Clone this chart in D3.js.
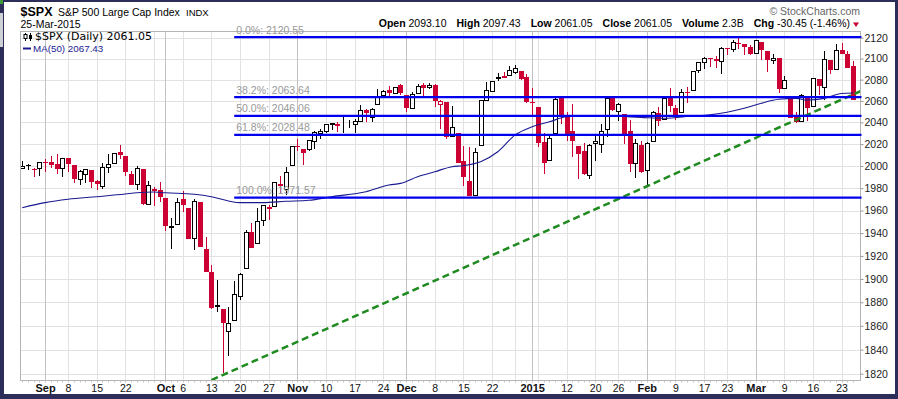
<!DOCTYPE html>
<html>
<head>
<meta charset="utf-8">
<title>$SPX candles</title>
<script src="https://cdn.jsdelivr.net/npm/d3@7/dist/d3.min.js"></script>
<style>
  body { margin: 0; background: #fff; }
  svg { display: block; font-family: "Liberation Sans", Arial, sans-serif; }
</style>
</head>
<body>
<svg width="898" height="399" id="mainsvg"></svg>
<script>
// trading days shown, grouped by month
const tradingDays = [
  ["2014-08", [26, 27, 28, 29]],
  ["2014-09", [2, 3, 4, 5, 8, 9, 10, 11, 12, 15, 16, 17, 18, 19, 22, 23, 24, 25, 26, 29, 30]],
  ["2014-10", [1, 2, 3, 6, 7, 8, 9, 10, 13, 14, 15, 16, 17, 20, 21, 22, 23, 24, 27, 28, 29, 30, 31]],
  ["2014-11", [3, 4, 5, 6, 7, 10, 11, 12, 13, 14, 17, 18, 19, 20, 21, 24, 25, 26, 28]],
  ["2014-12", [1, 2, 3, 4, 5, 8, 9, 10, 11, 12, 15, 16, 17, 18, 19, 22, 23, 24, 26, 29, 30, 31]],
  ["2015-01", [2, 5, 6, 7, 8, 9, 12, 13, 14, 15, 16, 20, 21, 22, 23, 26, 27, 28, 29, 30]],
  ["2015-02", [2, 3, 4, 5, 6, 9, 10, 11, 12, 13, 17, 18, 19, 20, 23, 24, 25, 26, 27]],
  ["2015-03", [2, 3, 4, 5, 6, 9, 10, 11, 12, 13, 16, 17, 18, 19, 20, 23, 24, 25]]
];
const dates = tradingDays.flatMap(([m, ds]) => ds.map(d => `${m}-${String(d).padStart(2, "0")}`));

const opens = [1998.6, 2000.5, 1997.4, 1998.5, 2004.1, 2003.6, 2001.7, 1998.0, 2007.2, 2000.7,
  1988.4, 1992.9, 1996.7, 1986.0, 1981.9, 1999.3, 2003.1, 2012.7, 2009.1, 1992.8,
  1983.3, 1997.3, 1966.2, 1978.9, 1978.2, 1971.4, 1945.8, 1948.0, 1970.0, 1962.4,
  1935.6, 1967.7, 1925.6, 1905.7, 1877.1, 1874.2, 1856.0, 1864.9, 1885.6, 1909.4,
  1941.3, 1931.0, 1951.6, 1963.0, 1964.1, 1983.3, 1979.5, 2001.2, 2018.2, 2015.8,
  2015.3, 2023.3, 2030.4, 2032.0, 2038.2, 2037.8, 2039.2, 2039.7, 2038.3, 2041.5,
  2051.2, 2045.0, 2057.5, 2065.1, 2070.0, 2067.4, 2074.8, 2065.8, 2053.8, 2067.5,
  2074.8, 2072.8, 2074.8, 2056.8, 2058.9, 2027.9, 2030.4, 2005.0, 1986.7, 1973.8,
  2019.0, 2061.0, 2069.3, 2081.5, 2083.3, 2084.3, 2087.6, 2088.5, 2082.1, 2058.9,
  2054.4, 2022.2, 2005.6, 2030.6, 2063.5, 2046.1, 2031.6, 2018.4, 2013.8, 1992.3,
  2020.8, 2020.2, 2034.3, 2063.0, 2050.4, 2047.9, 2032.3, 2002.4, 2019.4, 1996.7,
  2022.7, 2048.9, 2043.0, 2062.3, 2053.5, 2049.4, 2068.6, 2070.0, 2088.8, 2096.5,
  2100.6, 2099.3, 2097.7, 2109.8, 2109.1, 2115.3, 2113.9, 2110.9, 2105.2, 2115.8,
  2107.7, 2098.5, 2100.9, 2072.3, 2064.0, 2046.0, 2041.1, 2064.6, 2055.4, 2080.6,
  2072.8, 2098.7, 2090.3, 2108.0, 2103.9, 2093.1];
const highs = [2005.0, 2002.1, 1998.6, 2003.4, 2006.1, 2009.3, 2011.2, 2007.7, 2007.2, 2001.0,
  1996.7, 1997.7, 1996.7, 1987.2, 2002.3, 2010.7, 2012.3, 2019.3, 2009.1, 1995.4,
  1999.8, 1997.3, 1986.4, 1981.3, 1985.2, 1971.4, 1952.9, 1971.2, 1977.1, 1962.4,
  1970.4, 1967.7, 1936.9, 1912.1, 1898.7, 1874.2, 1876.0, 1898.2, 1905.0, 1942.5,
  1949.3, 1961.9, 1965.3, 1964.6, 1985.2, 1991.4, 1999.4, 2018.7, 2024.5, 2015.9,
  2023.8, 2031.6, 2034.3, 2038.7, 2039.7, 2040.3, 2046.2, 2042.2, 2043.1, 2056.1,
  2052.1, 2053.8, 2071.5, 2070.2, 2074.2, 2073.4, 2075.8, 2065.8, 2068.2, 2076.3,
  2077.3, 2077.3, 2075.8, 2060.6, 2058.9, 2055.5, 2030.4, 2018.7, 2016.9, 2016.8,
  2061.2, 2077.9, 2078.8, 2086.7, 2087.6, 2092.7, 2093.6, 2088.5, 2085.6, 2072.4,
  2054.4, 2030.3, 2029.6, 2064.1, 2064.4, 2049.3, 2056.9, 2018.4, 2021.4, 2020.5,
  2028.9, 2038.3, 2064.6, 2063.0, 2057.6, 2047.9, 2042.5, 2024.6, 2023.3, 2021.7,
  2050.3, 2054.7, 2063.6, 2072.4, 2056.2, 2070.9, 2073.5, 2088.5, 2097.0, 2101.3,
  2100.6, 2102.1, 2110.6, 2110.1, 2117.9, 2119.6, 2113.9, 2112.7, 2117.5, 2115.8,
  2107.7, 2104.3, 2100.9, 2083.5, 2064.5, 2050.1, 2066.4, 2064.6, 2081.4, 2080.6,
  2106.9, 2098.7, 2113.9, 2114.9, 2107.6, 2097.4];
const lows = [1998.6, 1996.2, 1990.5, 1991.0, 1994.9, 1998.1, 1992.9, 1990.1, 1995.0, 1984.6,
  1982.9, 1985.0, 1980.3, 1978.5, 1979.1, 1993.3, 2003.1, 2006.6, 1991.0, 1982.4,
  1978.6, 1965.0, 1966.2, 1964.1, 1968.0, 1941.7, 1926.0, 1948.0, 1958.4, 1935.1,
  1925.3, 1927.6, 1906.1, 1874.1, 1871.8, 1820.7, 1835.0, 1864.9, 1882.3, 1909.4,
  1927.1, 1931.0, 1946.3, 1951.4, 1964.1, 1974.8, 1974.2, 2001.2, 2013.7, 2001.0,
  2014.0, 2015.9, 2025.0, 2030.2, 2033.0, 2031.3, 2030.4, 2035.2, 2030.2, 2041.5,
  2040.4, 2040.5, 2056.8, 2065.1, 2064.8, 2066.4, 2065.1, 2049.6, 2053.8, 2066.7,
  2062.3, 2071.4, 2054.3, 2034.2, 2024.3, 2027.9, 2002.3, 1982.3, 1972.6, 1973.8,
  2019.0, 2061.0, 2069.3, 2078.8, 2081.9, 2084.3, 2085.8, 2079.8, 2057.9, 2046.0,
  2017.3, 1992.4, 2005.6, 2030.6, 2038.3, 2022.6, 2008.3, 1988.4, 1991.5, 1988.1,
  2004.5, 2012.0, 2026.4, 2050.5, 2041.0, 2019.9, 1995.0, 1989.2, 1993.4, 1980.9,
  2022.7, 2036.7, 2043.0, 2050.0, 2041.9, 2048.6, 2058.0, 2070.0, 2086.7, 2089.8,
  2092.2, 2090.8, 2085.4, 2103.0, 2105.9, 2109.1, 2103.8, 2103.8, 2104.9, 2098.3,
  2087.6, 2095.2, 2067.3, 2072.2, 2044.2, 2039.7, 2041.1, 2041.2, 2055.4, 2065.1,
  2061.1, 2085.6, 2090.3, 2104.4, 2091.5, 2061.05];
const closes = [2000.1, 2000.2, 1996.7, 2003.4, 2002.3, 2000.7, 1997.7, 2007.7, 2001.5, 1988.4,
  1995.7, 1997.5, 1985.5, 1984.1, 1999.0, 2001.6, 2011.4, 2010.4, 1994.3, 1982.8,
  1998.3, 1966.0, 1982.9, 1977.8, 1972.3, 1946.2, 1946.2, 1967.9, 1964.8, 1935.1,
  1968.9, 1928.2, 1906.1, 1874.7, 1877.7, 1862.5, 1862.8, 1886.8, 1904.0, 1941.3,
  1927.1, 1950.8, 1964.6, 1961.6, 1985.1, 1982.3, 1994.7, 2018.1, 2017.8, 2012.1,
  2023.6, 2031.2, 2031.9, 2038.3, 2039.7, 2038.3, 2039.3, 2039.8, 2041.3, 2051.8,
  2048.7, 2052.8, 2063.5, 2069.4, 2067.0, 2072.8, 2067.6, 2053.4, 2066.6, 2074.3,
  2071.9, 2075.4, 2060.3, 2059.8, 2026.1, 2035.3, 2002.3, 1989.6, 1972.7, 2012.9,
  2061.2, 2070.7, 2078.5, 2082.2, 2081.9, 2088.8, 2090.6, 2080.4, 2058.9, 2058.2,
  2020.6, 2002.6, 2025.9, 2062.1, 2044.8, 2028.3, 2023.0, 2011.3, 1992.7, 2019.4,
  2022.6, 2032.1, 2063.2, 2051.8, 2057.1, 2029.6, 2002.2, 2021.3, 1995.0, 2020.9,
  2050.0, 2041.5, 2062.5, 2055.5, 2046.7, 2068.6, 2068.5, 2088.5, 2097.0, 2100.3,
  2099.7, 2097.5, 2110.3, 2109.7, 2115.5, 2113.9, 2110.7, 2104.5, 2117.4, 2107.8,
  2098.5, 2101.0, 2071.3, 2079.4, 2044.2, 2040.2, 2066.0, 2053.4, 2081.2, 2074.3,
  2099.5, 2089.3, 2108.1, 2104.4, 2091.5, 2061.05];

// 50-day moving average at these days
const maDates = ["2014-08-26", "2014-09-02", "2014-09-08", "2014-09-15", "2014-09-22", "2014-09-24",
  "2014-09-29", "2014-10-01", "2014-10-08", "2014-10-13", "2014-10-16", "2014-10-20", "2014-10-24",
  "2014-10-30", "2014-11-05", "2014-11-11", "2014-11-19", "2014-11-25", "2014-11-28", "2014-12-03",
  "2014-12-08", "2014-12-11", "2014-12-15", "2014-12-18", "2014-12-23", "2014-12-29", "2015-01-02",
  "2015-01-07", "2015-01-12", "2015-01-16", "2015-01-23", "2015-01-30", "2015-02-05", "2015-02-12",
  "2015-02-18", "2015-02-23", "2015-02-26", "2015-03-03", "2015-03-06", "2015-03-11", "2015-03-13",
  "2015-03-18", "2015-03-23", "2015-03-25"];
const maValues = [1962.5, 1967.0, 1970.0, 1972.3, 1974.7, 1975.9, 1976.5, 1975.8, 1974.5, 1972.3,
  1968.5, 1967.0, 1967.0, 1968.2, 1969.1, 1972.3, 1976.8, 1982.8, 1984.3, 1990.3, 1994.8, 1999.4,
  2000.3, 2003.9, 2013.0, 2028.3, 2036.0, 2040.6, 2045.2, 2046.2, 2045.9, 2044.7, 2043.8, 2045.9,
  2047.0, 2049.5, 2053.1, 2057.8, 2061.5, 2062.4, 2060.8, 2062.4, 2067.0, 2067.4];

// fibonacci retracement levels
const fibLabels = ["0.0%", "38.2%", "50.0%", "61.8%", "100.0%"];
const fibValues = [2120.55, 2063.64, 2046.06, 2028.48, 1971.57];
const fibStart = "2014-10-17";

// green trend line anchors
const trendDates = ["2014-10-15", "2015-03-25"];
const trendValues = [1818.9, 2066.0];

const yTicks = [1820, 1840, 1860, 1880, 1900, 1920, 1940, 1960, 1980, 2000, 2020, 2040, 2060, 2080, 2100, 2120];
const xLabelDates = ["2014-09-02", "2014-09-08", "2014-09-15", "2014-09-22", "2014-10-01", "2014-10-06",
  "2014-10-13", "2014-10-20", "2014-10-27", "2014-11-03", "2014-11-10", "2014-11-17", "2014-11-24",
  "2014-12-01", "2014-12-08", "2014-12-15", "2014-12-22", "2015-01-02", "2015-01-12", "2015-01-20",
  "2015-01-26", "2015-02-02", "2015-02-09", "2015-02-17", "2015-02-23", "2015-03-02", "2015-03-09",
  "2015-03-16", "2015-03-23"];
const xLabelTexts = ["Sep", "8", "15", "22", "Oct", "6", "13", "20", "27", "Nov", "10", "17", "24",
  "Dec", "8", "15", "22", "2015", "12", "20", "26", "Feb", "9", "17", "23", "Mar", "9", "16", "23"];

const headerItems = [["Open", "2093.10"], ["High", "2097.43"], ["Low", "2061.05"], ["Close", "2061.05"],
  ["Volume", "2.3B"], ["Chg", "-30.45 (-1.46%)"]];

const svg = d3.select("#mainsvg");
const plot = { left: 20.5, right: 860.5, top: 31.5, bottom: 380.5 };
const RED = "#cc0033";

// frame
svg.append("rect").attr("width", 898).attr("height", 399).attr("fill", "#2d2d5a");
svg.append("rect").attr("x", 4).attr("y", 2).attr("width", 891).attr("height", 392).attr("fill", "#fff");
svg.append("rect").attr("x", 0).attr("y", 0).attr("width", 3).attr("height", 4).attr("fill", "#3c9a3c");
svg.append("rect").attr("x", 0).attr("y", 13).attr("width", 3).attr("height", 34).attr("fill", "#cfcfd6");

const x = d3.scalePoint().domain(dates).range([22.2, 853.05]);
const y = d3.scaleLog().domain([1820, 2120]).range([373.7, 37.7]);
const px = d => Math.round(x(d)) + 0.5;

// grid
const grid = svg.append("g");
yTicks.forEach(v => {
  const yy = Math.round(y(v)) + 0.5;
  grid.append("line").attr("x1", plot.left).attr("x2", plot.right).attr("y1", yy).attr("y2", yy)
    .attr("stroke", "#e2e2e2");
});
const parse = d3.timeParse("%Y-%m-%d");
dates.forEach((d, i) => {
  if (i === 0) return;
  const cur = parse(d), prev = parse(dates[i - 1]);
  const newMonth = cur.getMonth() !== prev.getMonth();
  const newWeek = cur.getDay() < prev.getDay() || (cur - prev) > 4 * 864e5;
  if (!newMonth && !newWeek) return;
  grid.append("line").attr("x1", px(d)).attr("x2", px(d)).attr("y1", plot.top).attr("y2", plot.bottom)
    .attr("stroke", newMonth ? "#c2c2c2" : "#e2e2e2");
});
svg.append("rect").attr("x", plot.left).attr("y", plot.top)
  .attr("width", plot.right - plot.left).attr("height", plot.bottom - plot.top)
  .attr("fill", "none").attr("stroke", "#b4b4b4");

// day ticks under the axis
dates.forEach(d => {
  svg.append("line").attr("x1", px(d)).attr("x2", px(d)).attr("y1", plot.bottom).attr("y2", plot.bottom + 2)
    .attr("stroke", "#c4c4c4");
});

svg.append("clipPath").attr("id", "plotclip").append("rect")
  .attr("x", plot.left + 0.5).attr("y", plot.top + 0.5)
  .attr("width", plot.right - plot.left - 1).attr("height", plot.bottom - plot.top - 1);
const g = svg.append("g").attr("clip-path", "url(#plotclip)");

// candles
dates.forEach((d, i) => {
  const o = opens[i], h = highs[i], l = lows[i], c = closes[i];
  const col = (i === 0 || c >= closes[i - 1]) ? "#000" : RED;
  const cx = px(d);
  g.append("line").attr("x1", cx).attr("x2", cx).attr("y1", y(h)).attr("y2", y(l))
    .attr("stroke", col).attr("shape-rendering", "crispEdges");
  const top = Math.round(y(Math.max(o, c))), bot = Math.round(y(Math.min(o, c)));
  if (c >= o) {
    g.append("rect").attr("x", cx - 2).attr("y", top + 0.5).attr("width", 4).attr("height", Math.max(0, bot - top))
      .attr("fill", "#fff").attr("stroke", col).attr("shape-rendering", "crispEdges");
  } else {
    g.append("rect").attr("x", cx - 2.5).attr("y", top).attr("width", 5).attr("height", Math.max(1, bot - top))
      .attr("fill", col).attr("shape-rendering", "crispEdges");
  }
});

// moving average
const ma = maDates.map((d, i) => [x(d), y(maValues[i])]);
g.append("path").attr("d", d3.line().curve(d3.curveMonotoneX)(ma))
  .attr("fill", "none").attr("stroke", "#1a1a90").attr("stroke-width", 1.1);

// fibonacci lines (labels sit above the lines, outside the clip)
fibValues.forEach((v, i) => {
  const yy = y(v);
  svg.append("text").attr("x", x(fibStart) + 2).attr("y", yy - 3.5)
    .attr("font-size", "10.5px").attr("fill", "#999").text(`${fibLabels[i]}: ${v.toFixed(2)}`);
  svg.append("line").attr("x1", x(fibStart)).attr("x2", plot.right + 1).attr("y1", yy).attr("y2", yy)
    .attr("stroke", "#0000ee").attr("stroke-width", 2.2);
});

// trend line, extended across the plot
const t0 = [x(trendDates[0]), y(trendValues[0])], t1 = [x(trendDates[1]), y(trendValues[1])];
const slope = (t1[1] - t0[1]) / (t1[0] - t0[0]);
g.append("line")
  .attr("x1", plot.left).attr("y1", t0[1] + slope * (plot.left - t0[0]))
  .attr("x2", plot.right).attr("y2", t0[1] + slope * (plot.right - t0[0]))
  .attr("stroke", "#1f8a1f").attr("stroke-width", 2.5).attr("stroke-dasharray", "7,4");

// axes
const yAxis = svg.append("g").attr("transform", `translate(${plot.right},0)`)
  .call(d3.axisRight(y).tickValues(yTicks).tickFormat(d3.format("d")).tickSize(3).tickPadding(1));
yAxis.select(".domain").remove();
yAxis.selectAll("line").attr("stroke", "#999");
yAxis.selectAll("text").attr("font-size", "10.5px").attr("fill", "#222")
  .attr("font-family", "'Liberation Sans', Arial, sans-serif");

const isMajor = t => /[A-Za-z]/.test(t) || t.length === 4;
const xAxis = svg.append("g").attr("transform", `translate(0,${plot.bottom})`)
  .call(d3.axisBottom(x).tickValues(xLabelDates).tickFormat((d, i) => xLabelTexts[i]).tickSize(0).tickPadding(4));
xAxis.select(".domain").remove();
xAxis.selectAll("text").attr("font-family", "'Liberation Sans', Arial, sans-serif").attr("fill", "#111")
  .attr("font-size", (d, i) => isMajor(xLabelTexts[i]) ? "11px" : "10.5px")
  .attr("font-weight", (d, i) => isMajor(xLabelTexts[i]) ? "bold" : "normal");

// legend
const lg = svg.append("g");
lg.append("line").attr("x1", 25.5).attr("x2", 25.5).attr("y1", 33).attr("y2", 41).attr("stroke", "#000");
lg.append("rect").attr("x", 24).attr("y", 34.5).attr("width", 3).attr("height", 4).attr("fill", "#fff").attr("stroke", "#000");
lg.append("line").attr("x1", 30.5).attr("x2", 30.5).attr("y1", 33).attr("y2", 41).attr("stroke", "#000");
lg.append("rect").attr("x", 29).attr("y", 35).attr("width", 3).attr("height", 4).attr("fill", "#000");
lg.append("text").attr("x", 35).attr("y", 40).attr("font-family", "'DejaVu Sans', sans-serif")
  .attr("font-size", "11px").attr("fill", "#000").text("$SPX (Daily) 2061.05");
lg.append("line").attr("x1", 23).attr("x2", 31).attr("y1", 48.5).attr("y2", 48.5).attr("stroke", "#1a1a90").attr("stroke-width", 2);
lg.append("text").attr("x", 33).attr("y", 52).attr("font-size", "9.8px").attr("fill", "#1a1a90").text("MA(50) 2067.43");

// titles
svg.append("text").attr("x", 20.5).attr("y", 15.5).attr("font-size", "12.5px").attr("font-weight", "bold").text("$SPX");
svg.append("text").attr("x", 58).attr("y", 15.5).attr("font-size", "10.5px").text("S&P 500 Large Cap Index");
svg.append("text").attr("x", 186).attr("y", 15.5).attr("font-size", "9.5px").text("INDX");
svg.append("text").attr("x", 20.5).attr("y", 28).attr("font-size", "10.5px").text("25-Mar-2015");
svg.append("text").attr("x", 860).attr("y", 15).attr("text-anchor", "end").attr("font-size", "10.5px")
  .attr("fill", "#666").text("© StockCharts.com");

const hdr = svg.append("text").attr("x", 850).attr("y", 27).attr("text-anchor", "end")
  .attr("font-size", "10.5px").style("white-space", "pre");
headerItems.forEach(([k, v], i) => {
  hdr.append("tspan").attr("font-weight", "bold").attr("dx", i ? 10 : 0).text(k);
  hdr.append("tspan").text(" " + v);
});
svg.append("path").attr("d", "M853,22.5 L859,22.5 L856,27 Z").attr("fill", RED);
</script>
</body>
</html>
